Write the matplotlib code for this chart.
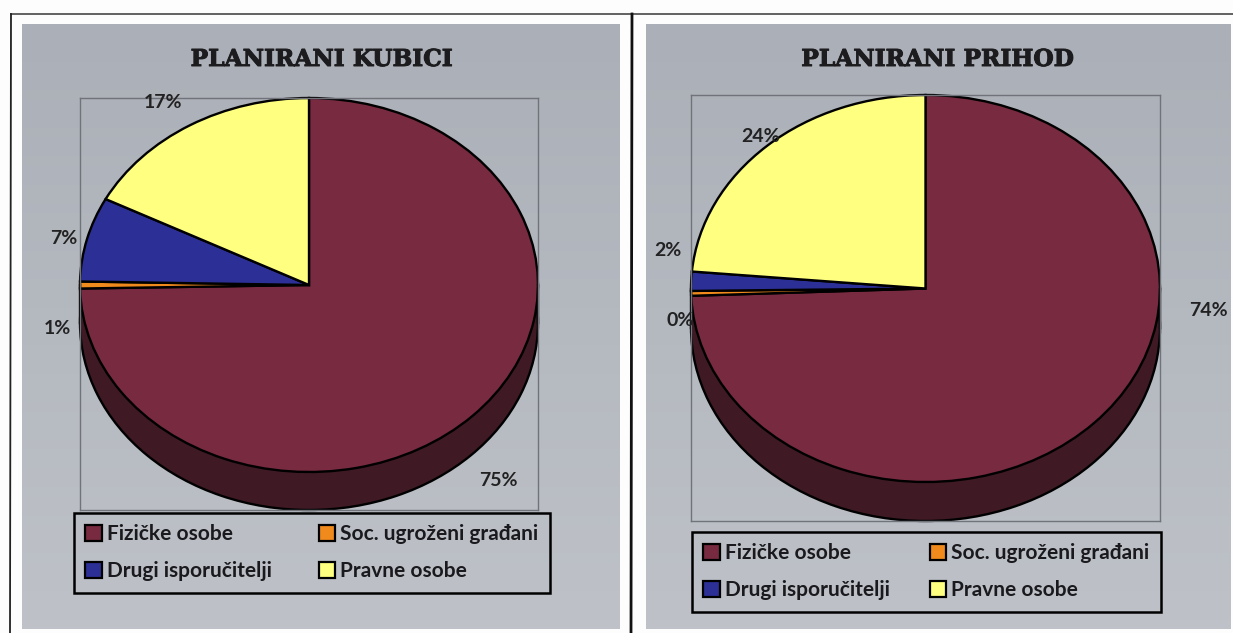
import numpy as np
import matplotlib
matplotlib.use('Agg')
import matplotlib.pyplot as plt
import matplotlib.patheffects as pe
from matplotlib.colors import LinearSegmentedColormap
from matplotlib.patches import Rectangle

W, H = 1233, 633

categories = ['Fizičke osobe', 'Soc. ugroženi građani', 'Drugi isporučitelji', 'Pravne osobe']
titles = ['PLANIRANI KUBICI', 'PLANIRANI PRIHOD']
kubici = [74.7, 0.6, 7.3, 17.4]
prihod = [74.4, 0.4, 1.6, 23.6]

colours = ['#772A40', '#F08A1D', '#2C2F95', '#FFFF80']
side = '#3F1A25'

font_label = 'Lato'
font_title = 'DejaVu Serif'


def px(x, y):
    return x / W, 1 - y / H


fig = plt.figure(figsize=(W / 100, H / 100), dpi=100, facecolor='#FDFDFD')

# page layer in pixel coordinates
bg = fig.add_axes([0, 0, 1, 1])
bg.axis('off')
grad = np.linspace(0, 1, 64).reshape(-1, 1)
panel_cmap = LinearSegmentedColormap.from_list('panel', ['#ABAFB7', '#BEC2C8'])
for x0, x1 in [(22, 620), (646, 1231)]:
    bg.imshow(grad, extent=(x0, x1, 629, 24), cmap=panel_cmap, aspect='auto', zorder=1)
bg.set_xlim(0, W)
bg.set_ylim(H, 0)
bg.plot([1233, 11], [14, 14], color='#555555', lw=1.3, zorder=2)
bg.plot([11, 10], [14, 633], color='#222222', lw=1.3, zorder=2)
bg.plot([632, 631], [14, 633], color='#111111', lw=2.0, zorder=2)


def draw_pie(values, title, left, right, top, face_bottom, bottom, title_x, title_y, legend_box, label_pos):
    ry = (face_bottom - top) / 2
    d = (bottom - face_bottom) / ry
    ax = fig.add_axes([left / W, 1 - bottom / H, (right - left) / W, (bottom - top) / H])
    wp = dict(edgecolor='black', linewidth=1.7, clip_on=False)
    # extruded side first, then the top face over it
    ax.pie([1], colors=[side], startangle=90, center=(0, -d), frame=True, wedgeprops=wp)
    ax.fill_between([-1, 1], -d, 0, color=side, lw=0, zorder=0.5)
    ax.plot([-1, -1], [-d, 0], color='black', lw=1.7, clip_on=False)
    ax.plot([1, 1], [-d, 0], color='black', lw=1.7, clip_on=False)
    ax.pie(values, colors=colours, startangle=90, counterclock=False, frame=True, wedgeprops=wp)
    ax.set_aspect('auto')
    ax.set_xlim(-1, 1)
    ax.set_ylim(-1 - d, 1)
    ax.set_xticks([])
    ax.set_yticks([])
    ax.patch.set_visible(False)
    for s in ax.spines.values():
        s.set_color('#70747A')
        s.set_linewidth(1.0)

    fig.text(*px(title_x, title_y), title, family=font_title, weight='bold', fontsize=16.8,
             color='#1C1C1E', ha='center', va='center',
             path_effects=[pe.withStroke(linewidth=0.7, foreground='#1C1C1E')])

    for v, (x, y) in zip(values, label_pos):
        fig.text(*px(x, y), '%d%%' % round(v), family=font_label, weight='bold', fontsize=14,
                 color='#222222', ha='center', va='center')

    x0, y0, x1, y1 = legend_box
    handles = [Rectangle((0, 0), 1, 1, facecolor=c, edgecolor='black', linewidth=1.6) for c in colours]
    order = [0, 2, 1, 3]
    leg = fig.legend([handles[i] for i in order], [categories[i] for i in order], ncol=2,
                     loc='upper left', mode='expand', borderaxespad=0,
                     bbox_to_anchor=(x0 / W, 1 - y1 / H, (x1 - x0) / W, (y1 - y0) / H),
                     prop=dict(family=font_label, weight='bold', size=15),
                     handlelength=0.77, handleheight=0.77, handletextpad=0.25, labelspacing=0.8,
                     borderpad=0.55, fancybox=False, labelcolor='#1A1A1E')
    frame = leg.get_frame()
    frame.set_facecolor('none')
    frame.set_edgecolor('black')
    frame.set_alpha(None)
    frame.set_linewidth(1.8)


draw_pie(kubici, titles[0], 80, 538, 98, 472, 510, 322, 60, (74, 513, 550, 593),
         [(498, 480), (57, 329), (64, 239), (163, 103)])
draw_pie(prihod, titles[1], 691, 1160, 95, 482, 521, 938, 60, (692, 532, 1161, 613),
         [(1208, 311), (680, 321), (668, 250), (761, 137)])

fig.savefig('out.png', dpi=100, facecolor=fig.get_facecolor())
